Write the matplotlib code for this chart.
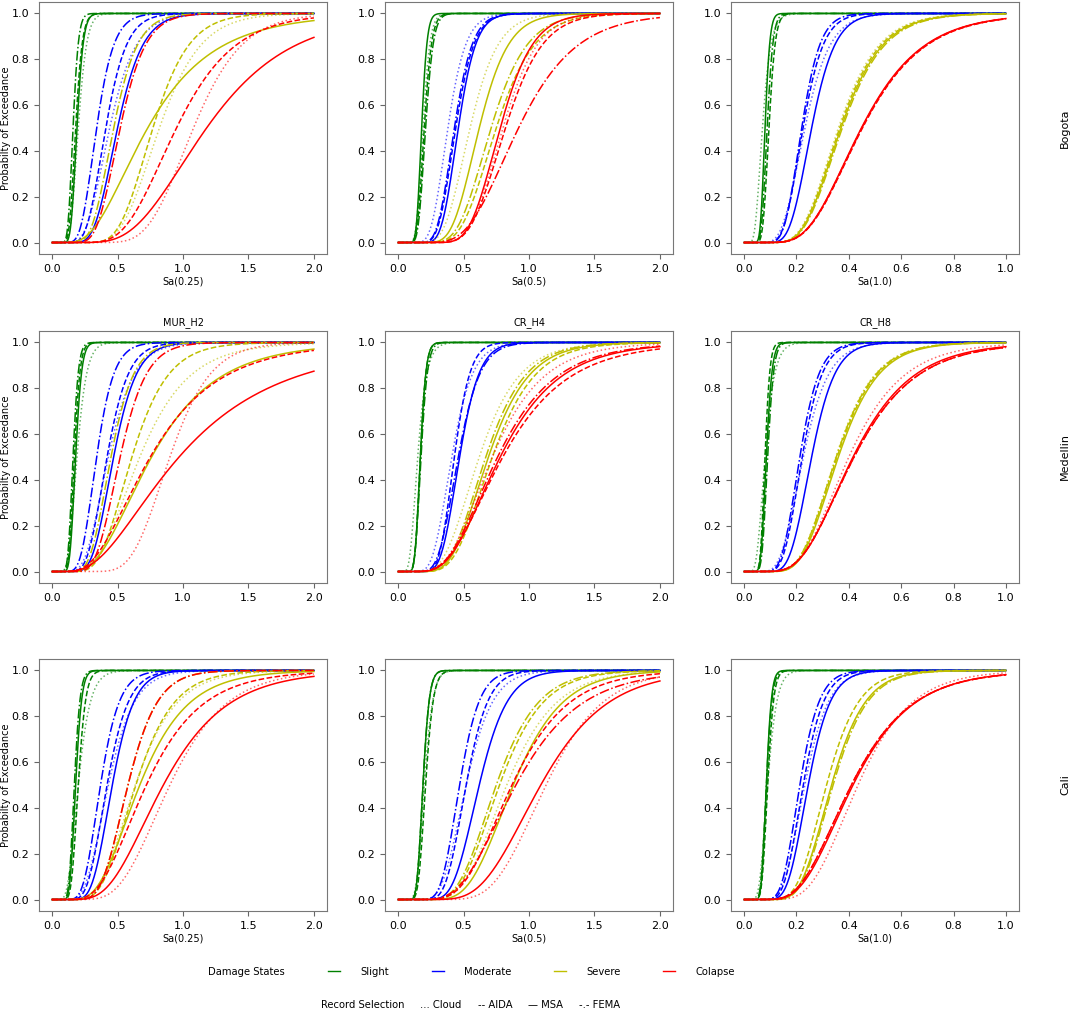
import math
import numpy as np
import matplotlib
matplotlib.use('Agg')
import matplotlib.pyplot as plt
from matplotlib.lines import Line2D

cities = ['Bogota', 'Medellin', 'Cali']
buildings = ['MUR_H2', 'CR_H4', 'CR_H8']
im_labels = ['Sa(0.25)', 'Sa(0.5)', 'Sa(1.0)']
im_max = [2.0, 2.0, 1.0]
im_ticks = [[0.0, 0.5, 1.0, 1.5, 2.0], [0.0, 0.5, 1.0, 1.5, 2.0],
            [0.0, 0.2, 0.4, 0.6, 0.8, 1.0]]
states = ['Slight', 'Moderate', 'Severe', 'Colapse']
methods = ['Cloud', 'AIDA', 'MSA', 'FEMA']

# fragility medians / dispersions
# rows = damage state, cols = Cloud, AIDA, MSA, FEMA
bog_mur_theta = [[0.20, 0.18, 0.19, 0.16], [0.44, 0.41, 0.50, 0.34],
                 [0.82, 0.77, 0.73, 0.47], [1.08, 0.95, 1.18, 0.52]]
bog_mur_beta = [[0.25, 0.22, 0.20, 0.20], [0.35, 0.30, 0.30, 0.30],
                [0.30, 0.28, 0.54, 0.30], [0.27, 0.36, 0.42, 0.29]]
bog_cr4_theta = [[0.19, 0.20, 0.18, 0.21], [0.38, 0.44, 0.46, 0.43],
                 [0.55, 0.75, 0.62, 0.71], [0.80, 0.82, 0.78, 0.92]]
bog_cr4_beta = [[0.22, 0.22, 0.18, 0.22], [0.28, 0.25, 0.23, 0.25],
                [0.30, 0.30, 0.28, 0.30], [0.26, 0.27, 0.25, 0.37]]
bog_cr8_theta = [[0.070, 0.095, 0.080, 0.088], [0.232, 0.225, 0.258, 0.220],
                 [0.360, 0.365, 0.370, 0.375], [0.450, 0.452, 0.448, 0.450]]
bog_cr8_beta = [[0.35, 0.20, 0.18, 0.20], [0.32, 0.27, 0.27, 0.25],
                [0.33, 0.33, 0.33, 0.33], [0.40, 0.40, 0.40, 0.40]]

med_mur_theta = [[0.19, 0.17, 0.18, 0.16], [0.43, 0.42, 0.47, 0.34],
                 [0.67, 0.61, 0.76, 0.45], [0.90, 0.75, 0.97, 0.52]]
med_mur_beta = [[0.30, 0.20, 0.20, 0.20], [0.35, 0.30, 0.29, 0.30],
                [0.43, 0.35, 0.51, 0.30], [0.27, 0.54, 0.63, 0.30]]
med_cr4_theta = [[0.15, 0.17, 0.17, 0.175], [0.41, 0.43, 0.47, 0.46],
                 [0.62, 0.72, 0.69, 0.67], [0.72, 0.80, 0.78, 0.76]]
med_cr4_beta = [[0.35, 0.20, 0.20, 0.22], [0.30, 0.22, 0.25, 0.28],
                [0.38, 0.35, 0.35, 0.35], [0.42, 0.48, 0.45, 0.45]]
med_cr8_theta = [[0.080, 0.080, 0.085, 0.090], [0.226, 0.222, 0.258, 0.213],
                 [0.350, 0.355, 0.360, 0.352], [0.400, 0.420, 0.416, 0.420]]
med_cr8_beta = [[0.35, 0.18, 0.20, 0.20], [0.33, 0.27, 0.27, 0.27],
                [0.33, 0.33, 0.33, 0.33], [0.40, 0.43, 0.42, 0.43]]

cal_mur_theta = [[0.20, 0.20, 0.18, 0.17], [0.43, 0.42, 0.46, 0.37],
                 [0.635, 0.64, 0.67, 0.58], [0.90, 0.72, 0.85, 0.58]]
cal_mur_beta = [[0.35, 0.22, 0.20, 0.20], [0.35, 0.30, 0.28, 0.30],
                [0.38, 0.35, 0.42, 0.30], [0.37, 0.45, 0.44, 0.30]]
cal_cr4_theta = [[0.20, 0.21, 0.19, 0.19], [0.52, 0.52, 0.62, 0.47],
                 [0.83, 0.775, 0.88, 0.75], [1.13, 0.87, 1.09, 0.90]]
cal_cr4_beta = [[0.25, 0.22, 0.20, 0.20], [0.30, 0.25, 0.27, 0.25],
                [0.35, 0.33, 0.33, 0.33], [0.30, 0.38, 0.36, 0.42]]
cal_cr8_theta = [[0.090, 0.090, 0.085, 0.085], [0.232, 0.226, 0.245, 0.213],
                 [0.335, 0.315, 0.334, 0.340], [0.435, 0.410, 0.416, 0.410]]
cal_cr8_beta = [[0.30, 0.20, 0.18, 0.20], [0.30, 0.27, 0.27, 0.27],
                [0.30, 0.30, 0.30, 0.30], [0.36, 0.43, 0.42, 0.43]]

thetas = [[bog_mur_theta, bog_cr4_theta, bog_cr8_theta],
          [med_mur_theta, med_cr4_theta, med_cr8_theta],
          [cal_mur_theta, cal_cr4_theta, cal_cr8_theta]]
betas = [[bog_mur_beta, bog_cr4_beta, bog_cr8_beta],
         [med_mur_beta, med_cr4_beta, med_cr8_beta],
         [cal_mur_beta, cal_cr4_beta, cal_cr8_beta]]

colors = ['g', 'b', 'y', 'r']
styles = [':', '--', '-', '-.']
erf = np.vectorize(math.erf)


def fragility(x, theta, beta):
    with np.errstate(divide='ignore'):
        z = np.log(x / theta) / (beta * math.sqrt(2))
    return 0.5 * (1 + erf(z))


fig = plt.figure(figsize=(10.72, 10.13), dpi=100)
lefts = [39 / 1072, 385 / 1072, 731 / 1072]
bottoms = [1 - 254 / 1013, 1 - 583 / 1013, 1 - 911 / 1013]
w, h = 288 / 1072, 252 / 1013

for i in range(3):
    for j in range(3):
        ax = fig.add_axes([lefts[j], bottoms[i], w, h])
        x = np.linspace(0, im_max[j], 300)
        for s in range(4):
            for m in range(4):
                y = fragility(x, thetas[i][j][s][m], betas[i][j][s][m])
                ax.plot(x, y, color=colors[s], linestyle=styles[m], lw=1.1,
                        alpha=0.6 if m == 0 else 1.0)
        ax.set_ylim(-0.05, 1.05)
        ax.set_xticks(im_ticks[j])
        ax.set_yticks([0, 0.2, 0.4, 0.6, 0.8, 1.0])
        ax.tick_params(labelsize=8, color='#666666', length=3.5)
        for sp in ax.spines.values():
            sp.set_color('#777777')
        if j == 0:
            ax.set_ylabel('Probabilty of Exceedance', fontsize=7)
            ax.yaxis.set_label_coords(-0.097, 0.5)
        if i != 1:
            ax.set_xlabel(im_labels[j], fontsize=7, labelpad=2)
        if i == 1:
            ax.set_title(buildings[j], fontsize=7, pad=4)
        if j == 2:
            ax.text(1.16, 0.5, cities[i], transform=ax.transAxes, rotation=90,
                    va='center', ha='center', fontsize=8)

# damage state legend
ds_handles = [Line2D([], [], color='none')]
ds_handles += [Line2D([], [], color=c, lw=1.0) for c in colors]
fig.legend(ds_handles, ['Damage States'] + states, ncol=5, frameon=False,
           loc='center', bbox_to_anchor=(0.425, 0.0405), fontsize=7.2,
           handlelength=1.2, handletextpad=2.0, columnspacing=4.3)

# record selection legend
rs_handles = [Line2D([], [], color='none') for _ in range(5)]
rs_labels = ['Record Selection', '... Cloud', '-- AIDA', '\u2014 MSA', '-.- FEMA']
fig.legend(rs_handles, rs_labels, ncol=5, frameon=False,
           loc='center', bbox_to_anchor=(0.439, 0.0075), fontsize=7.2,
           handlelength=0, handletextpad=0, columnspacing=1.6)

fig.savefig('out.png', dpi=100)
